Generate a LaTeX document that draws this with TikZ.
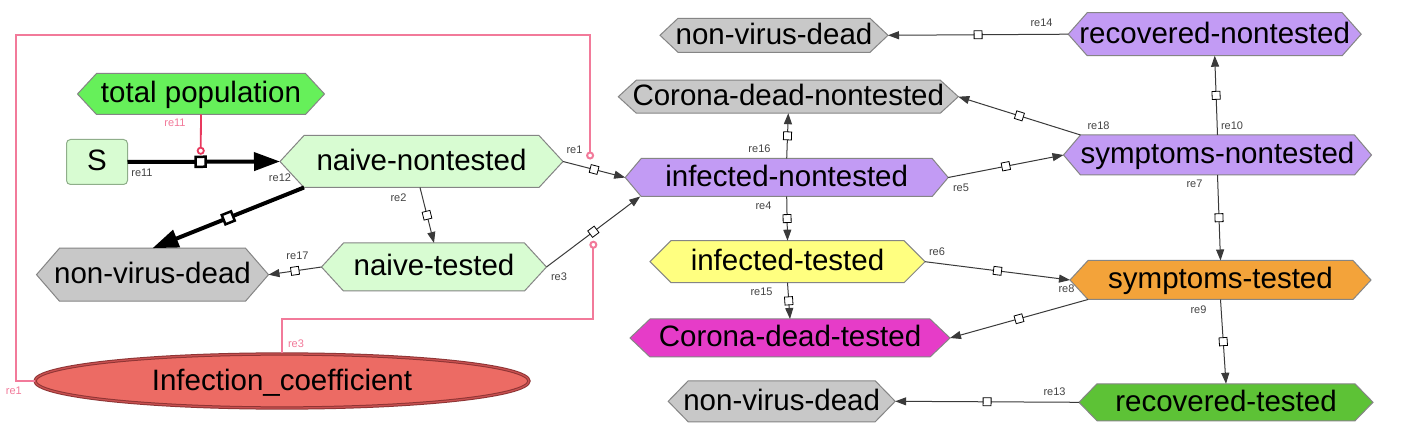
\documentclass[tikz,border=0pt]{standalone}
\usepackage{fontspec}
\setmainfont{Liberation Sans}
\usetikzlibrary{arrows.meta,shapes.geometric,calc}
\pgfdeclarelayer{lab}
\pgfdeclarelayer{bg}
\pgfsetlayers{lab,bg,main}
\definecolor{naivec}{HTML}{D8FCD2}
\definecolor{naiveb}{HTML}{8FAE8A}
\definecolor{grayc}{HTML}{C8C8C8}
\definecolor{purpc}{HTML}{C29BF4}
\definecolor{yelc}{HTML}{FFFF80}
\definecolor{magc}{HTML}{E63CC8}
\definecolor{orc}{HTML}{F3A33A}
\definecolor{rtc}{HTML}{5DC236}
\definecolor{tpc}{HTML}{66F05A}
\definecolor{icf}{HTML}{EC6B64}
\definecolor{icb}{HTML}{8E3434}
\definecolor{icd}{HTML}{C85050}
\definecolor{pinkc}{HTML}{F27A9A}
\definecolor{pinkr}{HTML}{E8395E}
\definecolor{linec}{HTML}{3A3A3A}
\definecolor{labc}{HTML}{444444}
\definecolor{hexb}{HTML}{858585}
\newcommand\hexnode[8]{%
  \node[hexlabel, minimum width=#4, minimum height=#5] (#1) at (#2,#3) {#8};
  \begin{pgfonlayer}{bg}
  \draw[hexline, fill=#7] (#1.west) -- ([xshift=#6]#1.north west) -- ([xshift=-#6]#1.north east)
     -- (#1.east) -- ([xshift=-#6]#1.south east) -- ([xshift=#6]#1.south west) -- cycle;
  \end{pgfonlayer}}
\begin{document}
\begin{tikzpicture}[x=1pt,y=-1pt,
  bigfont/.style={font=\fontsize{29.5}{32}\selectfont},
  hexlabel/.style={rectangle, inner sep=0pt, outer sep=0pt, bigfont, text=black,
     text height=22pt, text depth=4pt},
  hexline/.style={draw=hexb, line width=1pt, line join=miter},
  sbox/.style={rectangle, rounded corners=4pt, draw=naiveb, line width=1pt, fill=naivec,
     minimum width=61, minimum height=45, inner sep=0pt, outer sep=0pt, bigfont,
     text height=22pt, text depth=4pt},
  icstyle/.style={ellipse, draw=icb, double=icd, double distance=1.3pt, line width=1pt, fill=icf,
     minimum width=494, minimum height=54, inner sep=0pt, bigfont, text height=22pt, text depth=4pt},
  rx/.style={draw=linec, line width=1pt, -{Triangle[length=11pt,width=8pt]}},
  boldrx/.style={draw=black, line width=4pt, -{Triangle[length=26pt,width=18pt]}},
  sq/.style={draw=black, fill=white, rectangle, minimum size=8pt, inner sep=0pt,
     line width=0.8pt, sloped, pos=0.5},
  bsq/.style={draw=black, fill=white, rectangle, minimum size=10pt, inner sep=0pt,
     line width=2.5pt, sloped, pos=0.5},
  pmod/.style={draw=pinkc, line width=2pt, -{Circle[open,length=8pt,width=8pt]}},
  pmodr/.style={draw=pinkr, line width=1.8pt, -{Circle[open,length=8pt,width=8pt]}},
  lab/.style={font=\fontsize{11}{13}\selectfont, text=labc, inner sep=0pt},
  plab/.style={lab, text=pinkc}]
\useasboundingbox (0,0) rectangle (1414,446);
\begin{pgfonlayer}{lab}
\fill[white] (0,0) rectangle (1414,446);
\end{pgfonlayer}

% species
\hexnode{tp}{201}{94}{247}{41}{19}{tpc}{total population}
\node[sbox] (S) at (97,162) {S};
\hexnode{nn}{421.5}{161.5}{283}{52}{24}{naivec}{naive-nontested}
\hexnode{nvd1}{152.5}{274.7}{232}{53}{23}{grayc}{non-virus-dead}
\hexnode{nt}{434}{267}{225}{48}{22}{naivec}{naive-tested}
\node[icstyle] (ic) at (282,381) {Infection\_coefficient};
\hexnode{in}{786.7}{177.5}{323}{38}{16}{purpc}{infected-nontested}
\hexnode{nvd2}{774}{35.3}{228}{34}{18}{grayc}{non-virus-dead}
\hexnode{cdn}{788.3}{96.7}{340}{33}{18}{grayc}{Corona-dead-nontested}
\hexnode{it}{787.5}{261.7}{275}{42}{21}{yelc}{infected-tested}
\hexnode{cdt}{790}{338}{320}{38}{20}{magc}{Corona-dead-tested}
\hexnode{nvd3}{781.7}{401.3}{227}{41}{20}{grayc}{non-virus-dead}
\hexnode{rn}{1214.7}{34.2}{293}{43}{19}{purpc}{recovered-nontested}
\hexnode{sn}{1217.5}{155}{308}{40}{17}{purpc}{symptoms-nontested}
\hexnode{st}{1220.5}{280}{301}{39}{18}{orc}{symptoms-tested}
\hexnode{rt}{1226}{402.3}{294}{37}{18}{rtc}{recovered-tested}

% reactions
\draw[rx] (nn.east) -- node[sq] (q1) {} (in.west);
\draw[rx] ([xshift=-1.5]nn.south) -- node[sq] (q2) {} (nt.north);
\draw[rx] (nt.east) -- node[sq] (q3) {} ([xshift=15]in.south west);
\draw[rx] (in.south) -- node[sq] (q4) {} (it.north);
\draw[rx] (in.east) -- node[sq] (q5) {} (sn.west);
\draw[rx] (it.east) -- node[sq] (q6) {} (st.west);
\draw[rx] (sn.south) -- node[sq] (q7) {} (st.north);
\draw[rx] ([xshift=18]st.south west) -- node[sq] (q8) {} (cdt.east);
\draw[rx] (st.south) -- node[sq] (q9) {} (rt.north);
\draw[rx] (sn.north) -- node[sq] (q10) {} (rn.south);
\draw[rx] (rt.west) -- node[sq] (q13) {} (nvd3.east);
\draw[rx] (rn.west) -- node[sq] (q14) {} (nvd2.east);
\draw[rx] (it.south) -- node[sq] (q15) {} (cdt.north);
\draw[rx] (in.north) -- node[sq] (q16) {} (cdn.south);
\draw[rx] (nt.west) -- node[sq] (q17) {} (nvd1.east);
\draw[rx] ([xshift=17]sn.north west) -- node[sq] (q18) {} (cdn.east);
\draw[boldrx] (S.east) -- node[bsq,pos=0.48] (q11) {} (nn.west);
\draw[boldrx] ([xshift=24]nn.south west) -- node[bsq] (q12) {} (nvd1.north);

% modifiers
\draw[pmodr] (tp.south) -- ($(q11)+(0,-7)$);
\coordinate (f1) at (16,35);
\draw[pmod] (ic.west) -| (f1) -| ($(q1)+(-4,-10)$);
\draw[pmod] (ic.north) |- ($(q3)+(0,87)$) -- ($(q3)+(0,9)$);

% reaction labels
\begin{pgfonlayer}{lab}
\node[plab] (l11p) at (175,123) {re11};
\node[lab] (l11) at (142,172.5) {re11};
\node[lab] (l12) at (280,177.5) {re12};
\node[lab] (l2) at (398.5,197.5) {re2};
\node[lab] (l17) at (297.5,256) {re17};
\node[lab] (l3) at (559,277) {re3};
\node[lab] (l1) at (574.5,150) {re1};
\node[plab] (l3p) at (296,343.5) {re3};
\node[plab, anchor=east] (l1p) at (22,391) {re1};
\node[lab] (l16) at (759.5,148.5) {re16};
\node[lab] (l4) at (763.5,206) {re4};
\node[lab] (l5) at (961,187.5) {re5};
\node[lab] (l14) at (1041.5,23) {re14};
\node[lab] (l18) at (1098.5,125.5) {re18};
\node[lab] (l10) at (1232,125.5) {re10};
\node[lab] (l7) at (1194.5,183.5) {re7};
\node[lab] (l6) at (937,251.5) {re6};
\node[lab] (l15) at (761.5,292) {re15};
\node[lab] (l8) at (1066.5,289) {re8};
\node[lab] (l9) at (1198.5,309.5) {re9};
\node[lab] (l13) at (1054.5,391.5) {re13};
\end{pgfonlayer}
\end{tikzpicture}
\end{document}
